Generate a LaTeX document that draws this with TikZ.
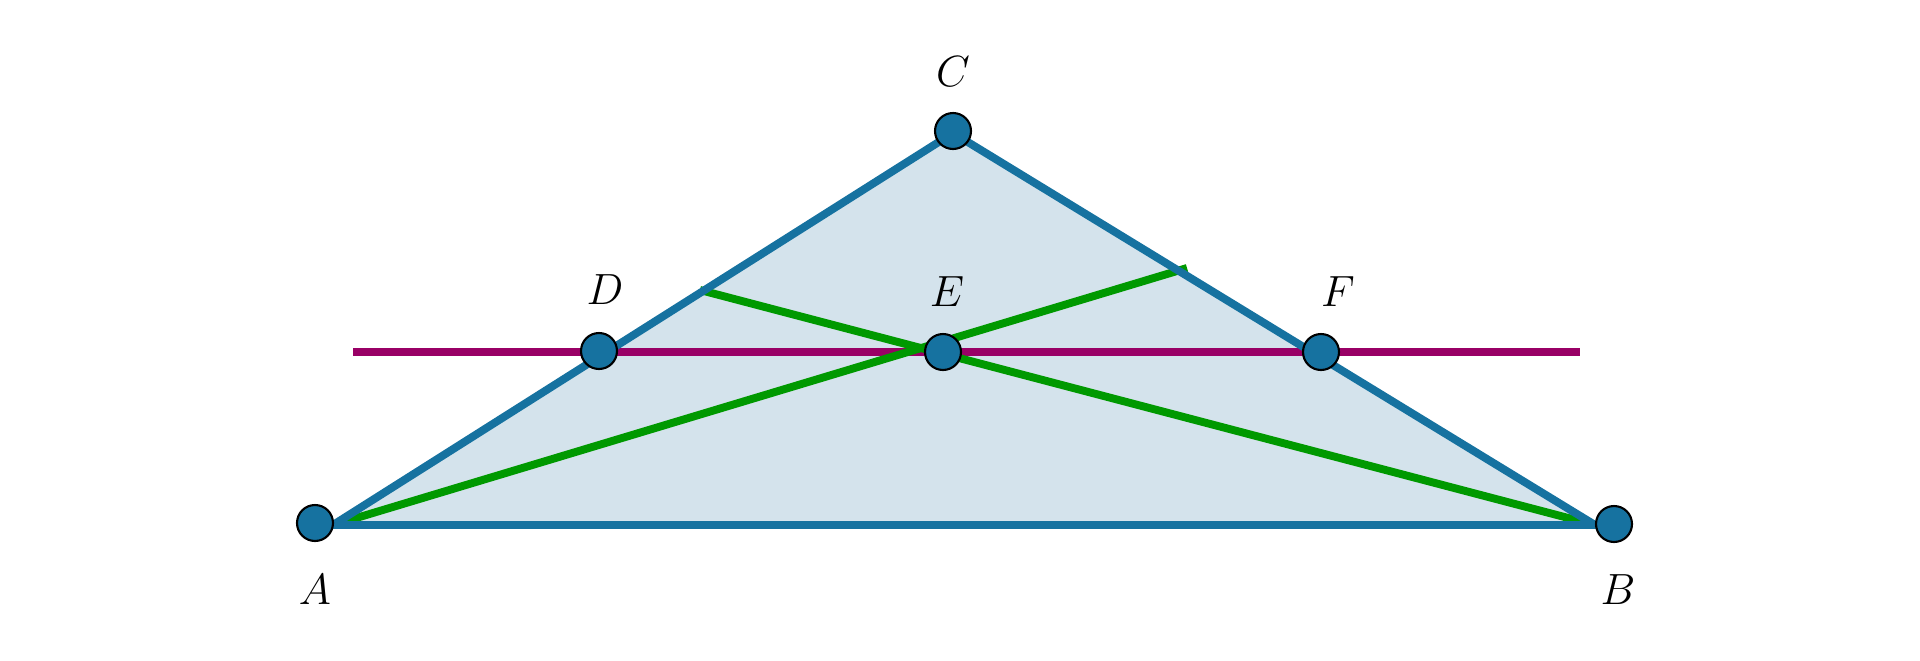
\documentclass[tikz,border=0pt]{standalone}
\begin{document}
\definecolor{tblue}{RGB}{22,114,160}
\definecolor{tfill}{RGB}{212,227,236}
\definecolor{tgreen}{RGB}{0,153,0}
\definecolor{tpurple}{RGB}{153,0,102}
\begin{tikzpicture}[x=0.02cm,y=-0.02cm,
  pt/.style={circle,draw=black,line width=1.2pt,fill=tblue,minimum size=0.72cm,inner sep=0pt},
  lab/.style={font=\fontsize{47}{50}\selectfont},
  edge/.style={tblue,line width=4.5pt},
  gl/.style={tgreen,line width=4.5pt},
  pl/.style={tpurple,line width=4.5pt}]
\useasboundingbox (0,0) rectangle (1920,660);
\coordinate (a) at (333,525);
\coordinate (b) at (1595,525);
\coordinate (c) at (953,133);
\coordinate (x) at (925,352);
\coordinate (g1) at (700,290);
\coordinate (g2) at (1187,268);
\coordinate (p1) at (353,352);
\coordinate (p2) at (1580,352);
\fill[tfill] (a) -- (b) -- (c) -- cycle;
\draw[pl] (p1) -- (p2);
\draw[gl] (a) -- (g2);
\draw[gl] (b) -- (g1);
\draw[edge,line join=round] (a) -- (b) -- (c) -- cycle;
\node[pt] (A) at (315,523) {};
\node[pt] (B) at (1614,524) {};
\node[pt] (C) at (953,131) {};
\node[pt] (D) at (599,351) {};
\node[pt] (E) at (943,352) {};
\node[pt] (F) at (1321,352) {};
\node[lab] (lA) at (315,590) {$A$};
\node[lab] (lB) at (1618,590) {$B$};
\node[lab] (lC) at (953,72) {$C$};
\node[lab] (lD) at (605,290) {$D$};
\node[lab] (lE) at (947,292) {$E$};
\node[lab] (lF) at (1338,292) {$F$};
\end{tikzpicture}
\end{document}
